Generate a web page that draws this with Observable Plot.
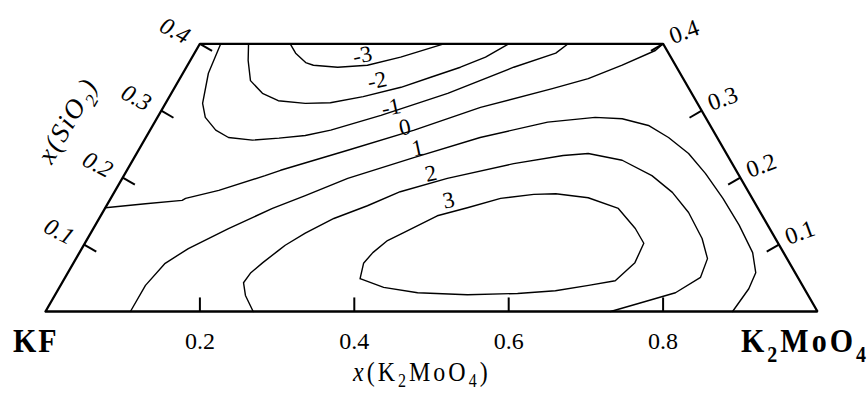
<!DOCTYPE html>
<html><head><meta charset="utf-8">
<script src="https://cdn.jsdelivr.net/npm/d3@7"></script>
<script src="https://cdn.jsdelivr.net/npm/@observablehq/plot@0.6"></script>
<style>html,body{margin:0;padding:0;background:#fff;}</style>
</head><body><div id="chart"></div>
<script>
// composition pairs: [x(K2MoO4), x(SiO2)]
const bottomTicks = [0.2, 0.4, 0.6, 0.8];
const sideTicks = [0.1, 0.2, 0.3, 0.4];
const levels = [-3, -2, -1, 0, 1, 2, 3];
const cM3 = [[0.117,0.4],[0.131,0.386],[0.151,0.372],[0.163,0.368],[0.196,0.365],[0.233,0.368],[0.270,0.380],[0.316,0.4]];
const cM2 = [[0.063,0.4],[0.075,0.375],[0.093,0.345],[0.118,0.326],[0.144,0.315],[0.181,0.311],[0.213,0.312],[0.251,0.321],[0.293,0.335],[0.324,0.350],[0.355,0.365],[0.380,0.380],[0.400,0.4]];
const cM1 = [[0.027,0.4],[0.033,0.356],[0.048,0.311],[0.062,0.290],[0.085,0.271],[0.107,0.260],[0.140,0.256],[0.173,0.259],[0.205,0.263],[0.234,0.271],[0.288,0.293],[0.358,0.326],[0.424,0.365],[0.468,0.386],[0.477,0.4]];
const c0 = [[0,0.155],[0.049,0.161],[0.094,0.166],[0.097,0.169],[0.134,0.181],[0.183,0.203],[0.199,0.211],[0.271,0.241],[0.342,0.271],[0.411,0.305],[0.490,0.333],[0.529,0.348],[0.563,0.368],[0.595,0.390],[0.6,0.4]];
const c1 = [[0.110,0],[0.110,0.039],[0.119,0.072],[0.138,0.094],[0.175,0.124],[0.217,0.154],[0.250,0.173],[0.292,0.199],[0.362,0.230],[0.433,0.260],[0.509,0.283],[0.567,0.290],[0.603,0.288],[0.642,0.278],[0.677,0.260],[0.715,0.236],[0.752,0.206],[0.793,0.169],[0.834,0.129],[0.872,0.088],[0.891,0.058],[0.894,0.034],[0.890,0]];
const c2 = [[0.269,0],[0.247,0.024],[0.235,0.043],[0.237,0.058],[0.245,0.073],[0.256,0.091],[0.261,0.099],[0.278,0.117],[0.304,0.139],[0.338,0.158],[0.370,0.179],[0.421,0.199],[0.496,0.221],[0.554,0.233],[0.585,0.236],[0.634,0.226],[0.684,0.203],[0.723,0.178],[0.759,0.148],[0.796,0.109],[0.818,0.079],[0.823,0.051],[0.802,0.028],[0.762,0.012],[0.732,0]];
const c3 = [[0.383,0.049],[0.376,0.072],[0.380,0.088],[0.390,0.106],[0.405,0.118],[0.436,0.143],[0.469,0.155],[0.505,0.169],[0.545,0.175],[0.573,0.176],[0.618,0.170],[0.665,0.154],[0.702,0.124],[0.724,0.102],[0.727,0.073],[0.715,0.046],[0.684,0.039],[0.645,0.031],[0.598,0.027],[0.534,0.025],[0.468,0.028],[0.420,0.036],[0.383,0.049]];
const labelK = [0.219, 0.257, 0.295, 0.328, 0.360, 0.396, 0.439];
const labelS = [0.383, 0.345, 0.305, 0.275, 0.244, 0.206, 0.166];
const frameCorners = [[0,0],[1,0],[0.6,0.4],[0,0.4],[0,0]];

const serif = "'Liberation Serif','Times New Roman',serif";
const TL = 0.021; // tick length in SiO2 units
const STRETCH = 1.12; // vertical stretch of upright text
const X = d => d[0] + d[1] / 2;   // ternary projection
const Y = d => d[1];

const contourRows = [cM3, cM2, cM1, c0, c1, c2, c3].flatMap((c, i) => c.map(p => ({p, level: levels[i]})));
const labels = levels.map((lv, i) => ({p: [labelK[i], labelS[i]], lv}));

const bottomTickLinks = bottomTicks.map(k => ({a: [k, 0], b: [k - TL / 2, TL]}));
const leftTickLinks = sideTicks.map(s => ({a: [0, s], b: [TL, s - TL / 2]}));
const rightTickLinks = sideTicks.map(s => ({a: [1 - s, s], b: [1 - s - TL / 2, s - TL / 2]}));
const tickLinks = [...bottomTickLinks, ...leftTickLinks, ...rightTickLinks];

const plot = Plot.plot({
  width: 868, height: 394, margin: 0,
  x: {domain: [0, 1], range: [45, 817], axis: null},
  y: {domain: [0, 0.4], range: [311, 43.3], axis: null},
  style: {fontFamily: serif, background: "white", overflow: "visible"},
  marks: [
    Plot.line(contourRows, {x: d => X(d.p), y: d => Y(d.p), z: "level", stroke: "black", strokeWidth: 1.4}),
    Plot.link(tickLinks, {x1: d => X(d.a), y1: d => Y(d.a), x2: d => X(d.b), y2: d => Y(d.b), stroke: "black", strokeWidth: 2}),
    Plot.line(frameCorners, {x: X, y: Y, stroke: "black", strokeWidth: 2.3, strokeLinejoin: "miter"}),
    Plot.text(labels, {x: d => X(d.p), y: d => Y(d.p), text: d => String(d.lv), rotate: -12, fontSize: 23, fill: "black", ariaLabel: "stretch"}),
    Plot.text(bottomTicks, {x: k => k, y: () => 0, text: k => k.toFixed(1), dy: 30, fontSize: 24, fill: "black", ariaLabel: "stretch"}),
    Plot.text(sideTicks, {x: s => s / 2, y: s => s, text: s => s.toFixed(1), dx: -25, dy: -13, rotate: 28, fontStyle: "italic", fontSize: 24, fill: "black"}),
    Plot.text(sideTicks, {x: s => 1 - s / 2, y: s => s, text: s => s.toFixed(1), dx: 21, dy: -12, rotate: -20, fontSize: 24, fill: "black"})
  ]
});
document.getElementById("chart").appendChild(plot);

const svg = d3.select(plot);
svg.selectAll("g[aria-label='stretch'] text").attr("transform", function () {
  return (this.getAttribute("transform") || "") + ` scale(1,${STRETCH})`;
});
const xs = plot.scale("x"), ys = plot.scale("y");
function addText(x, y, extra) {
  return svg.append("text").attr("transform", `translate(${x},${y}) ${extra || ""}`)
    .attr("text-anchor", "start").attr("font-family", serif).attr("fill", "black");
}
// corner component labels
addText(xs.apply(0) - 32, ys.apply(0) + 41, `scale(1,${STRETCH})`)
  .attr("font-weight", "bold").attr("font-size", 30).attr("letter-spacing", 2).text("KF");
const kt = addText(xs.apply(1) - 76, ys.apply(0) + 41, `scale(1,${STRETCH})`)
  .attr("font-weight", "bold").attr("font-size", 30).attr("letter-spacing", 3);
kt.append("tspan").text("K");
kt.append("tspan").attr("font-size", 20).attr("dy", 9).text("2");
kt.append("tspan").attr("dy", -9).text("MoO");
kt.append("tspan").attr("font-size", 20).attr("dy", 9).text("4");
// bottom axis title
const bt = addText(353, 381, `scale(1,${STRETCH})`).attr("font-size", 24).attr("letter-spacing", 3);
bt.append("tspan").attr("font-style", "italic").text("x");
bt.append("tspan").text("(K");
bt.append("tspan").attr("font-size", 16).attr("dy", 5).text("2");
bt.append("tspan").attr("dy", -5).text("MoO");
bt.append("tspan").attr("font-size", 16).attr("dy", 5).text("4");
bt.append("tspan").attr("dy", -5).text(")");
// left axis title
const lt = addText(67, 120, "rotate(-60)").attr("text-anchor", "middle").attr("dy", "0.35em")
  .attr("font-size", 27).attr("font-style", "italic").attr("letter-spacing", 2);
lt.append("tspan").text("x(SiO");
lt.append("tspan").attr("font-size", 18).attr("dy", 8).text("2");
lt.append("tspan").attr("dy", -8).text(")");
</script>
</body></html>
